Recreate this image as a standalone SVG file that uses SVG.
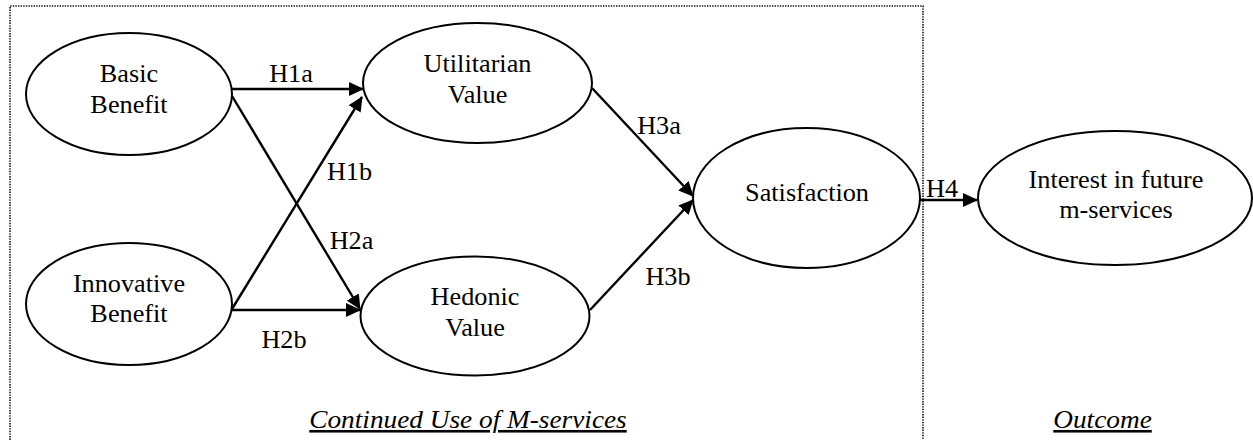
<svg xmlns="http://www.w3.org/2000/svg" width="1253" height="440" viewBox="0 0 1253 440">
  <style>
    .node { fill: #ffffff; stroke: #000000; stroke-width: 2; }
    .txt { font-family: "Liberation Serif", "Times New Roman", serif; font-size: 25px; fill: #000000; text-anchor: middle; }
    .lbl { font-family: "Liberation Serif", "Times New Roman", serif; font-size: 25px; fill: #000000; text-anchor: middle; }
    .ital { font-family: "Liberation Serif", "Times New Roman", serif; font-size: 26px; font-style: italic; fill: #000000; text-anchor: middle; text-decoration: underline; }
    .edge { stroke: #000000; stroke-width: 2.4; fill: none; marker-end: url(#arrow); }
    .frame { stroke: #111111; stroke-width: 1.6; stroke-dasharray: 1.4 1.2; fill: none; }
  </style>
  <defs>
    <marker id="arrow" markerUnits="userSpaceOnUse" markerWidth="15" markerHeight="14" refX="14" refY="7" orient="auto">
      <path d="M0,0 L15,7 L0,14 z" fill="#000000"/>
    </marker>
  </defs>
  <rect width="1253" height="440" fill="#ffffff"/>

  <g id="frame">
    <path class="frame" d="M10,440 V6 H923 V440"/>
  </g>

  <g id="connectors">
    <line class="edge" x1="232" y1="89" x2="363" y2="89"/>
    <line class="edge" x1="232" y1="96" x2="360" y2="309"/>
    <line class="edge" x1="232" y1="309" x2="362" y2="97"/>
    <line class="edge" x1="232" y1="310" x2="360" y2="310"/>
    <line class="edge" x1="592" y1="88" x2="693" y2="196"/>
    <line class="edge" x1="590" y1="310" x2="693" y2="200"/>
    <line class="edge" x1="920" y1="200" x2="977" y2="200"/>
    <text class="lbl" transform="translate(291 82) scale(1.05 1)">H1a</text>
    <text class="lbl" transform="translate(349.5 180) scale(1.05 1)">H1b</text>
    <text class="lbl" transform="translate(351.5 249) scale(1.05 1)">H2a</text>
    <text class="lbl" transform="translate(284 348) scale(1.05 1)">H2b</text>
    <text class="lbl" transform="translate(659 134) scale(1.05 1)">H3a</text>
    <text class="lbl" transform="translate(668 285) scale(1.05 1)">H3b</text>
    <text class="lbl" transform="translate(942 197) scale(1.05 1)">H4</text>
  </g>

  <g id="basic-benefit">
    <ellipse class="node" cx="129" cy="94" rx="103" ry="61"/>
    <text class="txt" transform="translate(129 82) scale(1.05 1)">Basic</text>
    <text class="txt" transform="translate(129 113) scale(1.05 1)">Benefit</text>
  </g>

  <g id="innovative-benefit">
    <ellipse class="node" cx="129" cy="304" rx="103" ry="61"/>
    <text class="txt" transform="translate(129 292) scale(1.05 1)">Innovative</text>
    <text class="txt" transform="translate(129 322) scale(1.05 1)">Benefit</text>
  </g>

  <g id="utilitarian-value">
    <ellipse class="node" cx="477.5" cy="83" rx="114.5" ry="60"/>
    <text class="txt" transform="translate(477.5 72) scale(1.05 1)">Utilitarian</text>
    <text class="txt" transform="translate(477.5 103) scale(1.05 1)">Value</text>
  </g>

  <g id="hedonic-value">
    <ellipse class="node" cx="475" cy="316" rx="114.5" ry="59.5"/>
    <text class="txt" transform="translate(475 305) scale(1.05 1)">Hedonic</text>
    <text class="txt" transform="translate(475 336) scale(1.05 1)">Value</text>
  </g>

  <g id="satisfaction">
    <ellipse class="node" cx="806.5" cy="198" rx="113.5" ry="70"/>
    <text class="txt" transform="translate(807 201) scale(1.05 1)">Satisfaction</text>
  </g>

  <g id="interest">
    <ellipse class="node" cx="1115" cy="198" rx="137" ry="67"/>
    <text class="txt" transform="translate(1116 188) scale(1.05 1)">Interest in future</text>
    <text class="txt" transform="translate(1116 218) scale(1.05 1)">m-services</text>
  </g>

  <g id="section-labels">
    <text class="ital" transform="translate(468 428) scale(1.05 1)">Continued Use of M-services</text>
    <text class="ital" transform="translate(1102.5 428) scale(1.05 1)">Outcome</text>
  </g>
</svg>
